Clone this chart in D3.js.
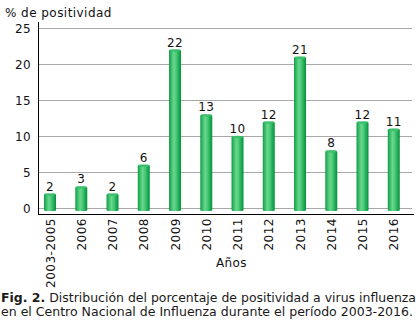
<!DOCTYPE html>
<html><head><meta charset="utf-8">
<script src="https://cdn.jsdelivr.net/npm/d3@7"></script>
<style>
html,body{margin:0;padding:0;background:#fff;}
svg{display:block;}
text{font-family:"DejaVu Sans",Verdana,sans-serif;}
</style></head>
<body>
<svg id="c" width="420" height="333"></svg>
<script>
const categories = ["2003-2005","2006","2007","2008","2009","2010","2011","2012","2013","2014","2015","2016"];
const values = [2,3,2,6,22,13,10,12,21,8,12,11];
const yTicks = [0,5,10,15,20,25];
const yTitle = "% de positividad";
const xTitle = "Años";
const captionBold = "Fig. 2.";
const captionLine1 = " Distribución del porcentaje de positividad a virus influenza";
const captionLine2 = "en el Centro Nacional de Influenza durante el período 2003-2016.";

const svg = d3.select("#c");
const x = d3.scaleBand().domain(categories).range([34.4, 409.4]);
const y = d3.scaleLinear().domain([0,25]).range([208,28]);
const barW = 12;

const defs = svg.append("defs");
const grad = defs.append("linearGradient").attr("id","bg").attr("x1","0").attr("x2","1").attr("y1","0").attr("y2","0");
[[0,"#0f9a45"],[0.15,"#2fb85e"],[0.4,"#6ad690"],[0.6,"#4cc878"],[0.85,"#16a84e"],[1,"#0a8f3e"]].forEach(([o,c])=>grad.append("stop").attr("offset",o).attr("stop-color",c));

// gridlines
svg.append("g").selectAll("line").data(yTicks).join("line")
  .attr("x1",38).attr("x2",412)
  .attr("y1",d=>Math.round(y(d))+0.5).attr("y2",d=>Math.round(y(d))+0.5)
  .attr("stroke","#a8a8a8").attr("stroke-width",1);

// y tick labels
svg.append("g").selectAll("text").data(yTicks).join("text")
  .attr("x",31).attr("y",d=>y(d)+4.5).attr("text-anchor","end")
  .attr("font-size",12).attr("letter-spacing",0.4).attr("fill","#111").text(d=>d);

// bars
const bars = svg.append("g").selectAll("g").data(categories).join("g");
bars.append("rect")
  .attr("x",d=>x(d)+x.bandwidth()/2-barW/2)
  .attr("y",(d,i)=>y(values[i]))
  .attr("width",barW)
  .attr("height",(d,i)=>y(0)+3-y(values[i]))
  .attr("rx",1.5).attr("ry",1.5)
  .attr("fill","url(#bg)");
bars.append("ellipse")
  .attr("cx",d=>x(d)+x.bandwidth()/2)
  .attr("cy",(d,i)=>y(values[i])+1)
  .attr("rx",barW/2-0.5).attr("ry",1.2)
  .attr("fill","#3cbf6a");

// value labels
svg.append("g").selectAll("text").data(categories).join("text")
  .attr("x",d=>x(d)+x.bandwidth()/2)
  .attr("y",(d,i)=>y(values[i])-3)
  .attr("text-anchor","middle").attr("font-size",12).attr("letter-spacing",0.4).attr("fill","#111")
  .text((d,i)=>values[i]);

// axes lines
svg.append("line").attr("x1",38.5).attr("x2",38.5).attr("y1",22).attr("y2",214).attr("stroke","#000");
svg.append("line").attr("x1",38).attr("x2",414).attr("y1",214.5).attr("y2",214.5).attr("stroke","#000");

// x labels rotated
svg.append("g").selectAll("text").data(categories).join("text")
  .attr("transform",d=>`translate(${x(d)+x.bandwidth()/2+4.5},218) rotate(-90)`)
  .attr("text-anchor","end").attr("font-size",12).attr("letter-spacing",0.5).attr("fill","#111")
  .text(d=>d);

// titles
svg.append("text").attr("x",5).attr("y",17).attr("font-size",12).attr("letter-spacing",0.45).attr("fill","#111").text(yTitle);
svg.append("text").attr("x",216).attr("y",267).attr("font-size",12).attr("letter-spacing",0.4).attr("fill","#111").text(xTitle);

// caption
const t1 = svg.append("text").attr("x",1).attr("y",302).attr("font-size",12).attr("fill","#1a1a1a")
  .attr("textLength",415).attr("lengthAdjust","spacingAndGlyphs");
t1.append("tspan").attr("font-weight","bold").text(captionBold);
t1.append("tspan").text(captionLine1);
svg.append("text").attr("x",1).attr("y",316).attr("font-size",12).attr("fill","#1a1a1a")
  .attr("textLength",412).attr("lengthAdjust","spacingAndGlyphs").text(captionLine2);
</script>
</body></html>
